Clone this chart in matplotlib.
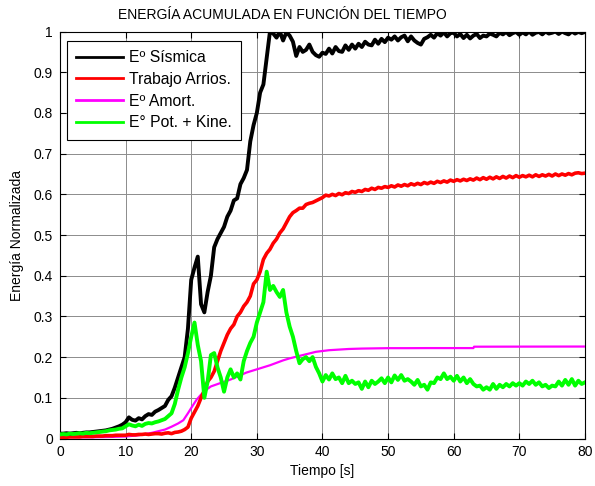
import numpy as np
import matplotlib
matplotlib.use("Agg")
import matplotlib.pyplot as plt

plt.rcParams['font.family'] = ['Liberation Sans', 'DejaVu Sans']
plt.rcParams['font.size'] = 10

# time base for the sampled records (s)
tiempo = np.arange(0, 80.5, 0.5)

# seismic input energy (normalised)
e_sismica = [
    0.012, 0.012, 0.013, 0.012, 0.013, 0.014, 0.013, 0.014, 0.015, 0.015,
    0.016, 0.017, 0.018, 0.019, 0.020, 0.022, 0.024, 0.027, 0.030, 0.034,
    0.040, 0.052, 0.046, 0.044, 0.050, 0.047, 0.055, 0.060, 0.058, 0.066,
    0.070, 0.075, 0.080, 0.095, 0.104, 0.125, 0.150, 0.175, 0.200, 0.270,
    0.390, 0.420, 0.447, 0.330, 0.310, 0.360, 0.400, 0.470, 0.490, 0.505,
    0.520, 0.545, 0.560, 0.585, 0.590, 0.625, 0.640, 0.660, 0.730, 0.770,
    0.800, 0.850, 0.870, 0.935, 1.000, 0.995, 0.985, 1.000, 0.978, 0.998,
    0.990, 0.975, 0.940, 0.962, 0.950, 0.955, 0.968, 0.950, 0.942, 0.938,
    0.948, 0.945, 0.958, 0.946, 0.962, 0.952, 0.950, 0.966, 0.955, 0.968,
    0.958, 0.970, 0.962, 0.975, 0.968, 0.966, 0.980, 0.970, 0.982, 0.974,
    0.985, 0.980, 0.988, 0.978, 0.986, 0.990, 0.976, 0.988, 0.978, 0.972,
    0.968, 0.982, 0.986, 0.992, 0.985, 0.996, 0.990, 0.998, 0.988, 0.996,
    0.997, 0.988, 0.994, 0.984, 0.992, 0.983, 0.990, 0.994, 0.984, 0.990,
    0.988, 0.995, 0.992, 0.988, 0.997, 0.993, 0.999, 0.991, 0.996, 0.999,
    0.992, 0.998, 0.993, 1.000, 0.992, 0.997, 0.999, 0.993, 1.000, 0.995,
    0.997, 1.000, 0.994, 1.000, 0.996, 0.993, 1.000, 0.995, 0.999, 0.996,
    0.999,
]

# work done by the dampers (normalised)
trabajo_arrios = [
    0.003, 0.003, 0.003, 0.004, 0.004, 0.004, 0.004, 0.005, 0.005, 0.005,
    0.005, 0.006, 0.006, 0.006, 0.007, 0.007, 0.007, 0.008, 0.008, 0.008,
    0.008, 0.010, 0.009, 0.009, 0.010, 0.010, 0.011, 0.010, 0.011, 0.012,
    0.012, 0.011, 0.013, 0.014, 0.012, 0.015, 0.016, 0.018, 0.022, 0.028,
    0.050, 0.065, 0.080, 0.100, 0.118, 0.140, 0.150, 0.165, 0.190, 0.215,
    0.235, 0.255, 0.270, 0.280, 0.300, 0.310, 0.325, 0.335, 0.350, 0.380,
    0.390, 0.410, 0.440, 0.455, 0.465, 0.480, 0.490, 0.505, 0.515, 0.530,
    0.545, 0.555, 0.560, 0.566, 0.566, 0.575, 0.578, 0.580, 0.584, 0.588,
    0.592, 0.598, 0.596, 0.600, 0.597, 0.602, 0.599, 0.604, 0.602, 0.607,
    0.605, 0.609, 0.607, 0.612, 0.610, 0.615, 0.612, 0.617, 0.615, 0.619,
    0.617, 0.621, 0.618, 0.623, 0.620, 0.624, 0.621, 0.626, 0.623, 0.627,
    0.624, 0.629, 0.626, 0.630, 0.627, 0.632, 0.629, 0.633, 0.630, 0.635,
    0.632, 0.636, 0.633, 0.637, 0.634, 0.638, 0.635, 0.640, 0.636, 0.641,
    0.637, 0.642, 0.638, 0.643, 0.639, 0.644, 0.640, 0.645, 0.641, 0.646,
    0.642, 0.646, 0.643, 0.647, 0.643, 0.648, 0.644, 0.648, 0.645, 0.649,
    0.645, 0.650, 0.646, 0.650, 0.647, 0.651, 0.648, 0.652, 0.653, 0.651,
    0.652,
]

# potential + kinetic energy (normalised)
e_pot_kine = [
    0.010, 0.011, 0.010, 0.012, 0.011, 0.012, 0.013, 0.012, 0.014, 0.013,
    0.014, 0.015, 0.016, 0.017, 0.018, 0.020, 0.021, 0.022, 0.024, 0.025,
    0.030, 0.035, 0.032, 0.030, 0.034, 0.031, 0.036, 0.038, 0.037, 0.040,
    0.042, 0.045, 0.048, 0.055, 0.062, 0.085, 0.120, 0.150, 0.175, 0.210,
    0.250, 0.285, 0.230, 0.190, 0.100, 0.140, 0.205, 0.210, 0.175, 0.150,
    0.115, 0.150, 0.170, 0.150, 0.160, 0.145, 0.190, 0.215, 0.235, 0.250,
    0.285, 0.310, 0.335, 0.410, 0.365, 0.375, 0.360, 0.348, 0.365, 0.310,
    0.275, 0.250, 0.215, 0.185, 0.195, 0.200, 0.190, 0.200, 0.176, 0.160,
    0.140, 0.156, 0.145, 0.160, 0.146, 0.150, 0.136, 0.154, 0.136, 0.142,
    0.134, 0.138, 0.122, 0.140, 0.126, 0.142, 0.134, 0.140, 0.148, 0.136,
    0.150, 0.138, 0.155, 0.144, 0.156, 0.142, 0.146, 0.140, 0.132, 0.144,
    0.128, 0.132, 0.120, 0.138, 0.136, 0.150, 0.146, 0.160, 0.146, 0.152,
    0.142, 0.154, 0.140, 0.150, 0.136, 0.146, 0.134, 0.128, 0.130, 0.120,
    0.126, 0.120, 0.134, 0.122, 0.132, 0.126, 0.134, 0.128, 0.136, 0.130,
    0.136, 0.130, 0.140, 0.134, 0.142, 0.132, 0.138, 0.128, 0.132, 0.124,
    0.130, 0.128, 0.140, 0.130, 0.144, 0.132, 0.146, 0.130, 0.142, 0.134,
    0.138,
]

# damping energy (smooth, sampled at uneven times)
t_amort = [0, 5, 8, 10, 12, 14, 15, 16, 17, 18, 18.8, 19.5, 20, 20.8, 21.5,
           22.3, 23, 24.4, 26, 27, 28.4, 30, 32, 34, 35, 36, 37, 38, 39, 40,
           41, 42, 44, 46, 48, 50, 53, 56, 60, 63, 63.1, 70, 80]
e_amort = [0.003, 0.003, 0.004, 0.005, 0.008, 0.014, 0.018, 0.022, 0.029,
           0.037, 0.045, 0.062, 0.075, 0.095, 0.108, 0.120, 0.128, 0.136,
           0.145, 0.152, 0.162, 0.170, 0.180, 0.192, 0.197, 0.201, 0.205,
           0.209, 0.213, 0.215, 0.217, 0.218, 0.220, 0.221, 0.2215, 0.222,
           0.222, 0.2222, 0.2222, 0.2222, 0.2256, 0.2258, 0.226]

etiquetas = ['Eº Sísmica', 'Trabajo Arrios.', 'Eº Amort.', 'E° Pot. + Kine.']
x_ticks = list(range(0, 81, 10))
y_ticks = [0, 0.1, 0.2, 0.3, 0.4, 0.5, 0.6, 0.7, 0.8, 0.9, 1]
y_ticklabels = ['0', '0.1', '0.2', '0.3', '0.4', '0.5', '0.6', '0.7', '0.8', '0.9', '1']

fig = plt.figure(figsize=(5.95, 4.86), dpi=100)
ax = fig.add_axes([0.1008, 0.0977, 0.8823, 0.8374])

ax.plot(tiempo, e_sismica, color='black', lw=2.8, label=etiquetas[0], zorder=5)
ax.plot(tiempo, trabajo_arrios, color='red', lw=2.6, label=etiquetas[1], zorder=4)
ax.plot(t_amort, e_amort, color='magenta', lw=1.6, label=etiquetas[2], zorder=3)
ax.plot(tiempo, e_pot_kine, color='#00ff00', lw=2.8, label=etiquetas[3], zorder=6)

ax.set_xlim(0, 80)
ax.set_ylim(0, 1)
ax.set_xticks(x_ticks)
ax.set_yticks(y_ticks)
ax.set_yticklabels(y_ticklabels)
ax.grid(True, color='0.55', lw=0.7)
ax.set_axisbelow(True)
ax.tick_params(direction='in', top=True, right=True, length=4, width=0.8,
               labelsize=10, pad=5)
for s in ax.spines.values():
    s.set_linewidth(0.8)

ax.set_xlabel('Tiempo [s]', fontsize=10, labelpad=3)
ax.set_ylabel('Energía Normalizada', fontsize=10, labelpad=7)
fig.text(0.474, 0.969, 'ENERGÍA ACUMULADA EN FUNCIÓN DEL TIEMPO',
         ha='center', va='center', fontsize=10)

leg = ax.legend(loc='upper left', bbox_to_anchor=(0.013, 0.977),
                frameon=True, fancybox=False, framealpha=1, edgecolor='black',
                fontsize=11.3, handlelength=3.0, handletextpad=0.35,
                borderpad=0.6, labelspacing=0.42, borderaxespad=0)
leg.get_frame().set_linewidth(0.8)
for h in leg.get_lines():
    h.set_linewidth(2)

fig.savefig('out.png', dpi=100)
